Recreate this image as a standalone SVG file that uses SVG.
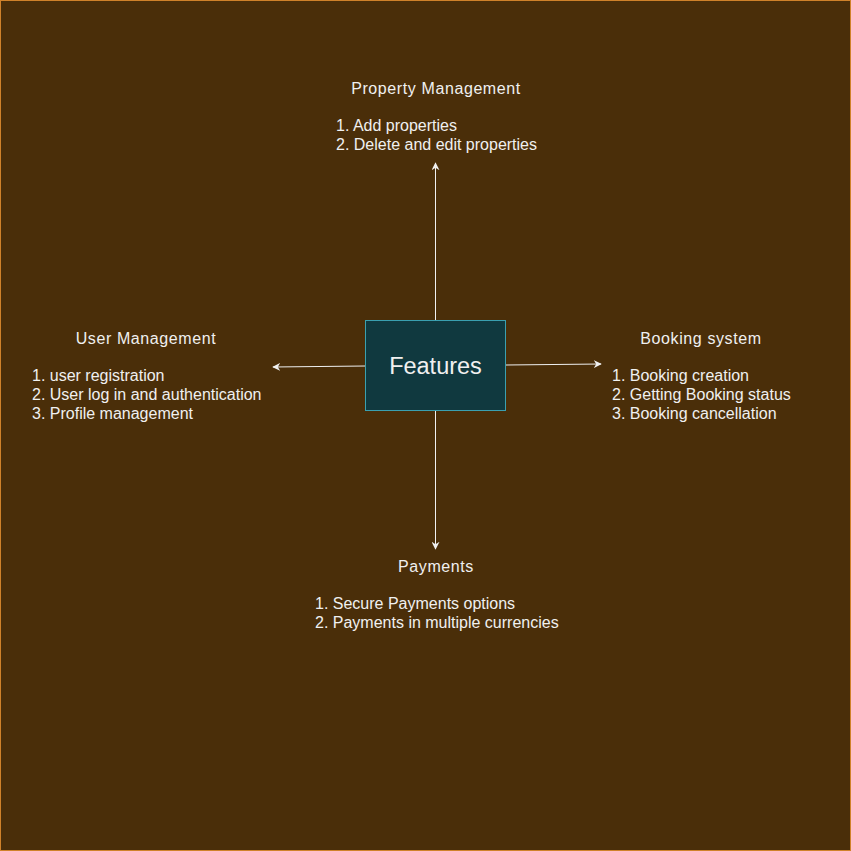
<svg xmlns="http://www.w3.org/2000/svg" width="851" height="851" viewBox="0 0 851 851">
<defs>
<style>
.t{font-family:"Liberation Sans",Arial,sans-serif;font-size:16px;fill:#f0f0f0}
.c{text-anchor:middle;letter-spacing:0.6px}
.ln{stroke:#f0f0f0;stroke-width:1;fill:none}
</style>
<marker id="ah" viewBox="0 0 10 10" refX="9" refY="5" markerWidth="8" markerHeight="8" markerUnits="userSpaceOnUse" orient="auto">
<path d="M0,0 L10,5 L0,10 L3,5 Z" fill="#f0f0f0"/>
</marker>
</defs>
<rect x="0.5" y="0.5" width="850" height="850" fill="#4a2e09" stroke="#d0822a" stroke-width="1"/>
<g id="connectors">
<line class="ln" x1="435.5" y1="320" x2="435.5" y2="163" marker-end="url(#ah)"/>
<line class="ln" x1="435.5" y1="411" x2="435.5" y2="549" marker-end="url(#ah)"/>
<line class="ln" x1="365" y1="366" x2="273" y2="367" marker-end="url(#ah)"/>
<line class="ln" x1="506" y1="365" x2="601" y2="364" marker-end="url(#ah)"/>
</g>
<g id="features">
<rect x="365.5" y="320.5" width="140" height="90" fill="#10393f" stroke="#3aa0b0"/>
<text class="t" x="435.5" y="374" text-anchor="middle" style="font-size:23.5px">Features</text>
</g>
<g id="property">
<text class="t c" x="436" y="94">Property Management</text>
<text class="t" x="336" y="131">1. Add properties</text>
<text class="t" x="336" y="150">2. Delete and edit properties</text>
</g>
<g id="user">
<text class="t c" x="146" y="344">User Management</text>
<text class="t" x="32" y="381">1. user registration</text>
<text class="t" x="32" y="400">2. User log in and authentication</text>
<text class="t" x="32" y="419">3. Profile management</text>
</g>
<g id="booking">
<text class="t c" x="701" y="344">Booking system</text>
<text class="t" x="612" y="381">1. Booking creation</text>
<text class="t" x="612" y="400">2. Getting Booking status</text>
<text class="t" x="612" y="419">3. Booking cancellation</text>
</g>
<g id="payments">
<text class="t c" x="436" y="572">Payments</text>
<text class="t" x="315" y="609">1. Secure Payments options</text>
<text class="t" x="315" y="628">2. Payments in multiple currencies</text>
</g>
</svg>
